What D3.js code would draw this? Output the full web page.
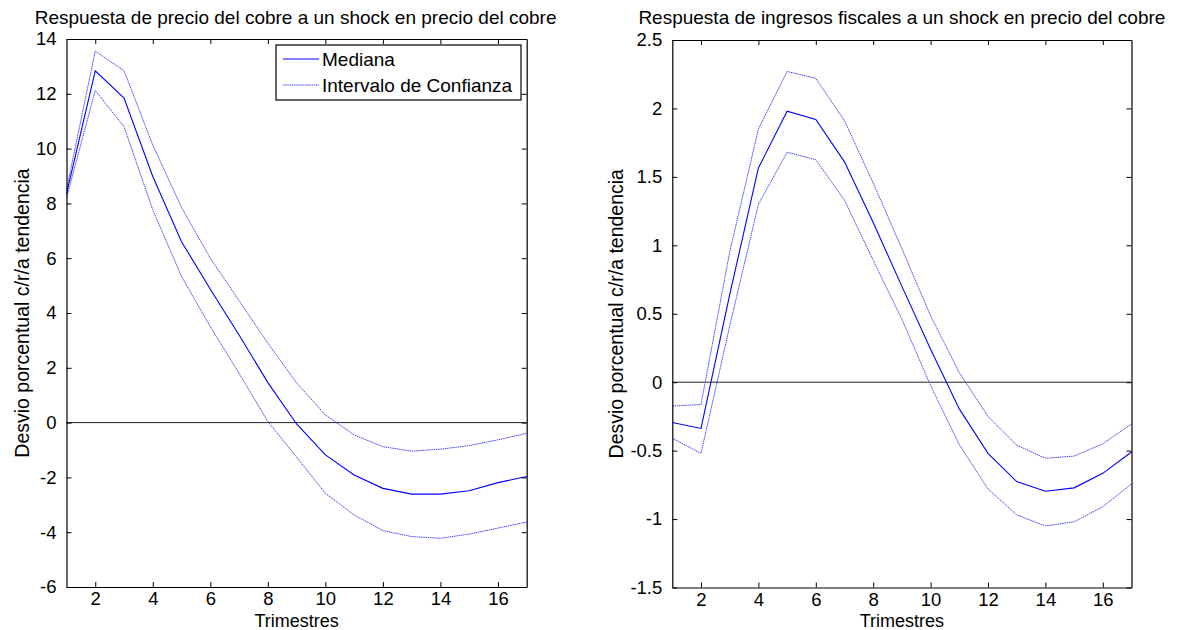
<!DOCTYPE html>
<html>
<head>
<meta charset="utf-8">
<script src="https://cdn.jsdelivr.net/npm/d3@7"></script>
<style>
  html, body { margin: 0; padding: 0; background: #fff; }
  svg { display: block; font-family: "Liberation Sans", Arial, sans-serif; }
</style>
</head>
<body>
<svg id="chart" width="1186" height="630"></svg>
<script>
// ---- data ----
const horizons = [1,2,3,4,5,6,7,8,9,10,11,12,13,14,15,16,17];

const cobreMediana = [8.35, 12.84, 11.84, 8.98, 6.6, 4.87, 3.2, 1.46, -0.05, -1.18, -1.91, -2.4, -2.61, -2.61, -2.49, -2.19, -1.97];
const cobreSuperior = [8.5, 13.56, 12.84, 10.13, 7.85, 6.0, 4.45, 2.9, 1.45, 0.28, -0.45, -0.88, -1.04, -0.97, -0.84, -0.63, -0.39];
const cobreInferior = [8.2, 12.12, 10.8, 7.76, 5.33, 3.5, 1.8, 0.04, -1.26, -2.58, -3.37, -3.94, -4.16, -4.22, -4.07, -3.85, -3.63];

const fiscalMediana = [-0.294, -0.338, 0.64, 1.565, 1.98, 1.92, 1.61, 1.166, 0.70, 0.24, -0.195, -0.52, -0.726, -0.797, -0.772, -0.666, -0.51];
const fiscalSuperior = [-0.175, -0.163, 0.95, 1.85, 2.27, 2.22, 1.91, 1.455, 0.975, 0.485, 0.07, -0.25, -0.46, -0.556, -0.54, -0.45, -0.305];
const fiscalInferior = [-0.41, -0.52, 0.41, 1.30, 1.68, 1.625, 1.33, 0.89, 0.46, -0.025, -0.456, -0.78, -0.97, -1.05, -1.02, -0.91, -0.743];

const xTicks = [2,4,6,8,10,12,14,16];
const yTicksCobre = [14,12,10,8,6,4,2,0,-2,-4,-6];
const yTicksFiscal = [2.5,2,1.5,1,0.5,0,-0.5,-1,-1.5];

const titles = ["Respuesta de precio del cobre a un shock en precio del cobre",
                "Respuesta de ingresos fiscales a un shock en precio del cobre"];
const yLabel = "Desvio porcentual c/r/a tendencia";
const xLabel = "Trimestres";
const legendLabels = ["Mediana", "Intervalo de Confianza"];

// ---- drawing ----
const svg = d3.select("#chart");
const BLUE = "#0000ff";
const CI_COLOR = "#4646ff";
const FONT = "Liberation Sans, Arial, sans-serif";

function panel(cfg) {
  const x = d3.scaleLinear().domain([1, 17]).range([cfg.left, cfg.right]);
  const y = d3.scaleLinear().domain(cfg.yDomain).range([cfg.bottom, cfg.top]);
  const g = svg.append("g");

  // zero line
  g.append("line")
    .attr("x1", cfg.left).attr("x2", cfg.right)
    .attr("y1", y(0)).attr("y2", y(0))
    .attr("stroke", "#222").attr("stroke-width", 1);

  const line = d3.line().x((d, i) => x(horizons[i])).y(d => y(d));

  [cfg.sup, cfg.inf].forEach(s => {
    g.append("path").datum(s)
      .attr("d", line)
      .attr("fill", "none")
      .attr("stroke", CI_COLOR)
      .attr("stroke-width", 1)
      .attr("stroke-dasharray", "1.5,0.7");
  });
  g.append("path").datum(cfg.med)
    .attr("d", line)
    .attr("fill", "none")
    .attr("stroke", BLUE)
    .attr("stroke-width", 1.1);

  // axes (MATLAB box style, inward ticks)
  const tl = 5;
  const fmt = d => String(d);
  const bottom = d3.axisBottom(x).tickValues(xTicks).tickSizeInner(-tl).tickSizeOuter(0).tickPadding(5).tickFormat(fmt);
  const top = d3.axisTop(x).tickValues(xTicks).tickSizeInner(-tl).tickSizeOuter(0).tickFormat("");
  const left = d3.axisLeft(y).tickValues(cfg.yTicks).tickSizeInner(-tl).tickSizeOuter(0).tickPadding(10).tickFormat(fmt);
  const right = d3.axisRight(y).tickValues(cfg.yTicks).tickSizeInner(-tl).tickSizeOuter(0).tickFormat("");

  const styleAxis = sel => {
    sel.selectAll("path").attr("stroke", "#000").attr("stroke-width", 1.2);
    sel.selectAll("line").attr("stroke", "#000");
    sel.selectAll("text").attr("fill", "#000").style("font-size", "18.5px").style("font-family", FONT);
  };
  g.append("g").attr("transform", `translate(0,${cfg.bottom})`).call(bottom).call(styleAxis);
  g.append("g").attr("transform", `translate(0,${cfg.top})`).call(top).call(styleAxis);
  g.append("g").attr("transform", `translate(${cfg.left},0)`).call(left).call(styleAxis);
  g.append("g").attr("transform", `translate(${cfg.right},0)`).call(right).call(styleAxis);

  // title
  g.append("text")
    .attr("x", (cfg.left + cfg.right) / 2 + cfg.titleDx).attr("y", 24)
    .attr("text-anchor", "middle")
    .style("font-size", "19px")
    .text(cfg.title);

  // x label
  g.append("text")
    .attr("x", (cfg.left + cfg.right) / 2).attr("y", 626.5)
    .attr("text-anchor", "middle")
    .style("font-size", "18px")
    .text(xLabel);

  // y label
  g.append("text")
    .attr("transform", `translate(${cfg.yLabelX},${(cfg.top + cfg.bottom) / 2}) rotate(-90)`)
    .attr("text-anchor", "middle")
    .style("font-size", "19.5px")
    .text(yLabel);

  return {x, y, g};
}

const p1 = panel({
  left: 66.5, right: 526.7, top: 39, bottom: 587,
  yDomain: [-6, 14], yTicks: yTicksCobre,
  med: cobreMediana, sup: cobreSuperior, inf: cobreInferior,
  title: titles[0], titleDx: -1, yLabelX: 29
});

const p2 = panel({
  left: 672.3, right: 1131.5, top: 40, bottom: 587.5,
  yDomain: [-1.5, 2.5], yTicks: yTicksFiscal,
  med: fiscalMediana, sup: fiscalSuperior, inf: fiscalInferior,
  title: titles[1], titleDx: 0, yLabelX: 623
});

// legend (left panel)
const lg = svg.append("g");
lg.append("rect")
  .attr("x", 276).attr("y", 45).attr("width", 245).attr("height", 55)
  .attr("fill", "#fff").attr("stroke", "#000").attr("stroke-width", 1.2);
const legendStyles = [
  {stroke: BLUE, dash: null},
  {stroke: CI_COLOR, dash: "1.5,0.7"}
];
legendLabels.forEach((lab, i) => {
  const yy = 59 + i * 26;
  lg.append("line")
    .attr("x1", 283).attr("x2", 319).attr("y1", yy).attr("y2", yy)
    .attr("stroke", legendStyles[i].stroke).attr("stroke-width", 1)
    .attr("stroke-dasharray", legendStyles[i].dash);
  lg.append("text")
    .attr("x", 322).attr("y", yy + 7)
    .style("font-size", "19px")
    .text(lab);
});
</script>
</body>
</html>
